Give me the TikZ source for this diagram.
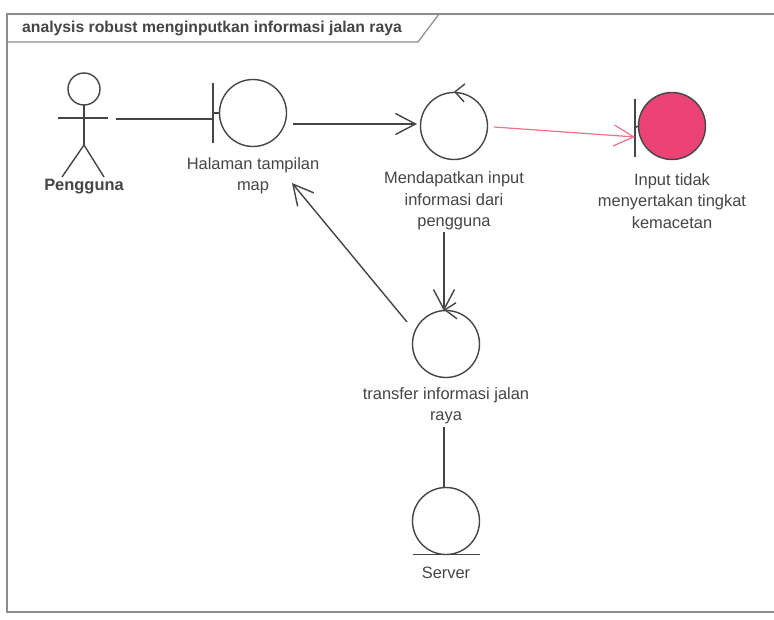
\documentclass[tikz,border=0pt]{standalone}
\usepackage{fontspec}
\setmainfont{Liberation Sans}
\usetikzlibrary{arrows.meta,calc}
\definecolor{inkline}{HTML}{454545}
\definecolor{inktext}{HTML}{454545}
\definecolor{framegray}{HTML}{8C8C8C}
\definecolor{alertline}{HTML}{F0708E}
\definecolor{alertfill}{HTML}{EB4474}
\tikzset{
  obj/.style={circle, draw=inkline, line width=1.4bp, minimum size=67bp, inner sep=0pt},
  lbl/.style={text=inktext, align=center, font=\fontsize{16.5}{21.5}\selectfont, inner sep=0pt},
  conn/.style={draw=inkline, line width=1.4bp},
  flow/.style={conn, -{Straight Barb[length=20bp,width=21bp,line width=1.4bp]}},
  alertflow/.style={draw=alertline, line width=1.2bp, -{Straight Barb[length=20bp,width=21bp,line width=1.2bp]}},
}
\begin{document}
\begin{tikzpicture}[x=1bp,y=-1bp]
\useasboundingbox (0,0) rectangle (774,620);
\fill[white] (0,0) rectangle (774,620);

% diagram frame and its name tab
\draw[framegray, line width=1.2bp] (775,14) -- (7,14) -- (7,612) -- (775,612);
\draw[framegray, line width=1.2bp] (7,42) -- (418,42) -- (439,14);
\node[anchor=west, text=inktext, inner sep=0pt, font=\fontsize{15.8}{18}\selectfont\bfseries] (title) at (22,28) {analysis robust menginputkan informasi jalan raya};

% actor
\begin{scope}[inkline, line width=1.4bp]
  \draw (84,89) circle (16);
  \draw (84,105) -- (84,145);
  \draw (58,118) -- (108,118);
  \draw (62,177) -- (84,145) -- (104,177);
\end{scope}
\coordinate (actorR) at (116,119);
\node[lbl, font=\fontsize{16.5}{21.5}\selectfont\bfseries] (actorLbl) at (84,187) {Pengguna};

% boundary: Halaman tampilan map
\node[obj] (hal) at (253,113) {};
\draw[conn] (213,83) -- (213,143);
\draw[conn] (213,113) -- (hal.west);
\coordinate (halBar) at (213,119);
\node[lbl] (halLbl) at (253,176) {Halaman tampilan\\map};

% control: Mendapatkan input informasi dari pengguna
\node[obj] (mend) at (454,126) {};
\draw[conn] ($(mend.north)+(11,-8)$) -- ($(mend.north)+(1,0)$) -- ($(mend.north)+(10,10)$);
\node[lbl] (mendLbl) at (454,201) {Mendapatkan input\\informasi dari\\pengguna};

% boundary entity highlighted: Input tidak menyertakan tingkat kemacetan
\node[obj, fill=alertfill] (warn) at (672,126) {};
\draw[conn] (635,99) -- (635,157);
\draw[conn] (635,128) -- (warn.west);
\coordinate (warnBar) at (635,137);
\node[lbl] (warnLbl) at (672,201) {Input tidak\\menyertakan tingkat\\kemacetan};

% control: transfer informasi jalan raya
\node[obj] (trans) at (446,344) {};
\draw[conn] ($(trans.north)+(10,-7)$) -- ($(trans.north)+(-1,0)$) -- ($(trans.north)+(11,9)$);
\node[lbl] (transLbl) at (446,406) {transfer informasi jalan\\raya};

% entity: Server
\node[obj] (server) at (446,521) {};
\draw[conn] (413,554.5) -- (480,554.5);
\node[lbl] (serverLbl) at (446,573) {Server};

% connection points
\coordinate (halOut) at (293,124);
\coordinate (mendIn) at (417,124);
\coordinate (mendOut) at (494,127);
\coordinate (mendDown) at (444,232);
\coordinate (transIn) at (444,311);
\coordinate (transOut) at (407,322);
\coordinate (halIn) at (292,183);
\coordinate (transDown) at (444,427);
\coordinate (serverIn) at (444,488);

% connectors
\draw[conn] (actorR) -- (halBar);
\draw[flow] (halOut) -- (mendIn);
\draw[alertflow] (mendOut) -- (warnBar);
\draw[flow] (mendDown) -- (transIn);
\draw[flow] (transOut) -- (halIn);
\draw[conn] (transDown) -- (serverIn);
\end{tikzpicture}
\end{document}
